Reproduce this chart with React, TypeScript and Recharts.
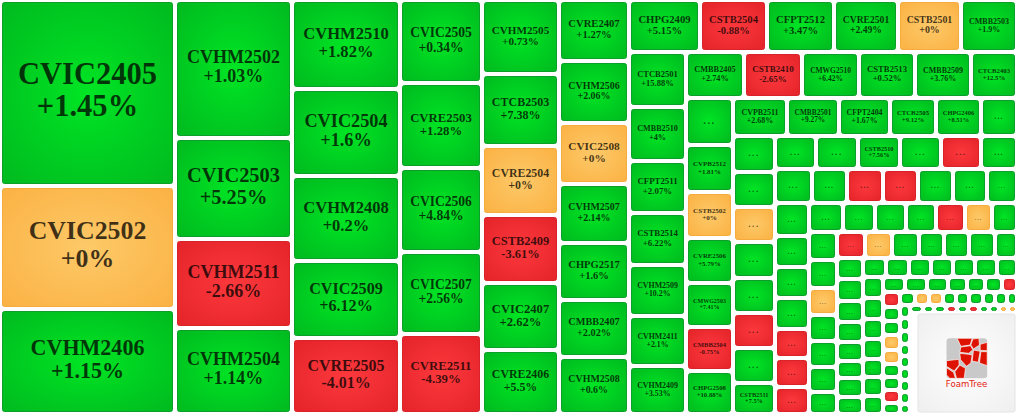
import { Treemap } from "recharts";

// tile weights, one line per strip of the layout
const sizes = [
  32643, 21587, 18428,
  16077, 11767, 10369, 10019,
  9558, 9342, 9180, 8316, 8316,
  6806, 6970, 6888, 6683, 6601,
  5660, 5506, 5313, 5236, 5159, 5005,
  4270, 4340, 4270, 4130, 3990, 3990, 3990,
  3692, 3458, 3458, 3328, 3250, 2990,
  3135, 3078, 2936, 2964, 2907, 2822, 2793,
  2668, 2645, 2599, 2553, 2553, 2208,
  2209, 2209, 2162, 2092, 2068, 2068, 2045,
  2033, 1957, 1938, 1729, 1691, 1444,
  1491, 1470, 1470, 1491, 1449, 1470, 1449, 1386,
  1353, 1370, 1370, 1337, 1304, 1254,
  1258, 1190, 1224, 1173, 1173, 1139, 1071,
  1105, 1054, 1037, 1054, 986, 969, 969,
  972, 914, 899, 870, 841, 783, 754,
  770, 770, 742, 714, 728, 686, 686,
  715, 689, 702, 650, 650, 663, 611,
  546, 559, 533, 520, 494, 442, 494, 468,
  428, 428, 418, 418, 418, 418, 399,
  420, 420, 400, 400, 360, 380, 360,
  330, 330, 315, 285, 270, 248, 233,
  255, 238, 238, 255, 238, 213, 221, 213, 204,
  188, 181, 169, 163, 163, 169, 144, 156, 131,
  130, 128, 126, 124, 122, 120, 118, 116, 111,
  115, 98, 102, 98, 98, 94, 85, 85, 77, 60,
];

// how many tiles sit in each of those strips
const stripCounts = [3, 4, 5, 5, 6, 7, 6, 7, 6, 7, 6, 8, 6, 7, 7, 7, 7, 7, 8, 7, 7, 7, 9, 9, 9, 10];

// the corner tile that holds the FoamTree mark
const logoSize = 10807;

// direction of each tile: 1 up, 0 flat, -1 down
const tones = [
  1, 0, 1,
  1, 1, -1, 1,
  1, 1, 1, 1, -1,
  1, 1, 1, 1, -1,
  1, 1, 0, -1, 1, 1,
  1, 1, 0, 1, 1, 1, 1,
  1, -1, 1, 1, 0, 1,
  1, 1, 1, 1, 1, 1, 1,
  1, -1, 1, 1, 1, 1,
  1, 1, 0, 1, 1, -1, 1,
  1, 1, 1, 1, 1, 1,
  1, 1, 0, 1, 1, -1, 1, 1,
  1, 1, 1, 1, -1, 1,
  1, 1, -1, -1, 1, 1, 1,
  1, 1, 1, 1, -1, -1, -1,
  1, 1, 1, 1, -1, 0, 1,
  1, 1, 0, 1, 1, 1, 1,
  -1, 0, 1, 1, 1, 1, 1,
  1, 1, 1, 1, 1, 1, 1, 1,
  1, 1, 1, 1, 1, 1, 1,
  1, 1, 1, 1, 1, 1, 1,
  1, 1, 1, 1, 1, 1, -1,
  -1, 1, 1, 0, 0, 1, 1, -1, 1,
  1, 0, 0, 1, 1, 1, 1, 1, 1,
  1, 1, 1, 1, 1, 1, 1, 1, 1,
  1, 1, 1, -1, 1, -1, 1, 1, 0, 0,
];

// "" means the tile shows no name, only dots
const names = [
  "CVIC2405", "CVIC2502", "CVHM2406",
  "CVHM2502", "CVIC2503", "CVHM2511", "CVHM2504",
  "CVHM2510", "CVIC2504", "CVHM2408", "CVIC2509", "CVRE2505",
  "CVIC2505", "CVRE2503", "CVIC2506", "CVIC2507", "CVRE2511",
  "CVHM2505", "CTCB2503", "CVRE2504", "CSTB2409", "CVIC2407", "CVRE2406",
  "CVRE2407", "CVHM2506", "CVIC2508", "CVHM2507", "CHPG2517", "CMBB2407", "CVHM2508",
  "CHPG2409", "CSTB2504", "CFPT2512", "CVRE2501", "CSTB2501", "CMBB2503",
  "CTCB2501", "CMBB2510", "CFPT2511", "CSTB2514", "CVHM2509", "CVHM2411", "CVHM2409",
  "CMBB2405", "CSTB2410", "CMWG2510", "CSTB2513", "CMBB2509", "CTCB2403",
  "", "CVPB2512", "CSTB2502", "CVRE2506", "CMWG2503", "CMBB2504", "CHPG2508",
  "CVPB2511", "CMBB2501", "CFPT2404", "CTCB2505", "CHPG2406", "",
  "", "", "", "", "", "", "", "CSTB2511",
  "", "", "CSTB2510", "", "", "",
];

const changes = [
  "+1.45%", "+0%", "+1.15%",
  "+1.03%", "+5.25%", "-2.66%", "+1.14%",
  "+1.82%", "+1.6%", "+0.2%", "+6.12%", "-4.01%",
  "+0.34%", "+1.28%", "+4.84%", "+2.56%", "-4.39%",
  "+0.73%", "+7.38%", "+0%", "-3.61%", "+2.62%", "+5.5%",
  "+1.27%", "+2.06%", "+0%", "+2.14%", "+1.6%", "+2.02%", "+0.6%",
  "+5.15%", "-0.88%", "+3.47%", "+2.49%", "+0%", "+1.9%",
  "+15.88%", "+4%", "+2.07%", "+6.22%", "+10.2%", "+2.1%", "+3.53%",
  "+2.74%", "-2.65%", "+6.42%", "+0.52%", "+3.76%", "+12.5%",
  "", "+1.81%", "+0%", "+5.79%", "+7.41%", "-0.75%", "+10.88%",
  "+2.68%", "+9.27%", "+1.67%", "+9.12%", "+8.51%", "",
  "", "", "", "", "", "", "", "+7.5%",
  "", "", "+7.56%", "", "", "",
];

const tiles = sizes.map((size, i) => ({
  size,
  tone: tones[i],
  name: names[i] ?? "",
  change: changes[i] ?? "",
}));

// each strip is split off the remaining area, so the strips nest inside one another
let cursor = tiles.length;
let nested: any[] = [{ size: logoSize, tone: 2, name: "", change: "" }];
for (let s = stripCounts.length - 1; s >= 0; s--) {
  cursor -= stripCounts[s];
  const strip = { name: `strip${s}`, children: tiles.slice(cursor, cursor + stripCounts[s]) };
  nested = [strip, { name: `rest${s}`, children: nested }];
}

const toneFill: Record<string, string> = { "1": "url(#up)", "0": "url(#flat)", "-1": "url(#down)" };
const toneStroke: Record<string, string> = { "1": "#0c9f2b", "0": "#f6ab3e", "-1": "#d9222a" };

// glyph widths of bold Liberation Serif, in em
const glyphs: Record<string, number> = {
  C: 0.722, V: 0.722, I: 0.389, H: 0.778, M: 0.944, R: 0.722, E: 0.667,
  S: 0.556, T: 0.667, B: 0.667, F: 0.611, P: 0.611, G: 0.778, W: 1,
};
const labelEm = (label: string) => [...label].reduce((sum, ch) => sum + (glyphs[ch] ?? 0.5), 0);

const logoShapes = [
  "187,148 232,148 226,168 198,172",
  "234,150 252,148 254,168 236,180 228,168",
  "198,174 227,170 234,182 222,193 195,190",
  "256,166 277,160 277,185 256,184",
  "236,183 256,187 250,220 232,216",
  "195,193 222,196 232,198 228,222 215,232 197,212",
  "258,188 277,188 277,230 254,222",
  "155,215 192,211 193,228 178,246 155,232",
  "195,228 212,238 208,268 185,268 180,248",
  "155,236 176,250 182,268 165,268 155,258",
];

function LogoTile({ x, y, width, height }: any) {
  const left = x + 8;
  const cx = left + (width - 10) / 2;
  return (
    <g>
      <rect x={left} y={y + 1} width={width - 10} height={height - 3} rx={2} fill="url(#logoBack)" stroke="#e4e4e4" />
      <g transform={`translate(${cx - 20 - 155 / 3} ${y + 25 - 147 / 3}) scale(${1 / 3})`}>
        <rect x={155} y={148} width={122} height={120} rx={10} fill="#c9c9c9" />
        {logoShapes.map((points) => (
          <polygon key={points} points={points} fill="#dd1200" stroke="#fff" strokeWidth={2} />
        ))}
      </g>
      <text x={cx} y={y + 74} textAnchor="middle" fontFamily="'DejaVu Sans', sans-serif" fontSize={8.6} fill="#e0200f">
        FoamTree
      </text>
    </g>
  );
}

function Tile(props: any) {
  const { x, y, width, height, tone, name, change } = props;
  if (tone === undefined) return null;
  if (tone === 2) return <LogoTile x={x} y={y} width={width} height={height} />;

  const key = String(tone);
  const fit = 0.63 + 0.165 * Math.min(1, width / 110);
  const cx = x + width / 2;
  const cy = y + height / 2;
  const fontSize = name ? Math.min((fit * width) / labelEm(name), height * 0.21) : 0;

  return (
    <g>
      <rect
        x={x + 2.5}
        y={y + 2.5}
        width={Math.max(width - 5, 1)}
        height={Math.max(height - 5, 1)}
        rx={2}
        fill={toneFill[key]}
        stroke={toneStroke[key]}
        strokeWidth={1}
      />
      {name ? (
        <text textAnchor="middle" fontFamily="'Liberation Serif', serif" fontWeight={700} fontSize={fontSize} fill="#000" fillOpacity={0.75}>
          <tspan x={cx} y={cy - 0.31 * fontSize}>{name}</tspan>
          <tspan x={cx} y={cy + 0.74 * fontSize}>{change}</tspan>
        </text>
      ) : width >= 18 && height >= 14 ? (
        <text x={cx} y={cy + 2} textAnchor="middle" fontFamily="'Liberation Serif', serif" fontWeight={700} fontSize={width * 0.22} letterSpacing={width * 0.035} fill="#000" fillOpacity={0.6}>
          ...
        </text>
      ) : null}
    </g>
  );
}

export default function App() {
  return (
    <div style={{ position: "absolute", left: 0, top: 0, width: 1017, height: 414, background: "#fff" }}>
      <svg width={0} height={0} style={{ position: "absolute" }}>
        <defs>
          <radialGradient id="up" r="0.7">
            <stop offset="0%" stopColor="#00e524" />
            <stop offset="100%" stopColor="#00ba1f" />
          </radialGradient>
          <radialGradient id="flat" r="0.7">
            <stop offset="0%" stopColor="#fdc968" />
            <stop offset="100%" stopColor="#fbb244" />
          </radialGradient>
          <radialGradient id="down" r="0.7">
            <stop offset="0%" stopColor="#fc383c" />
            <stop offset="100%" stopColor="#e4242a" />
          </radialGradient>
          <radialGradient id="logoBack" r="0.7">
            <stop offset="0%" stopColor="#ffffff" />
            <stop offset="100%" stopColor="#efefef" />
          </radialGradient>
        </defs>
      </svg>
      <Treemap
        width={1017}
        height={414}
        data={nested}
        dataKey="size"
        type="flat"
        aspectRatio={1}
        isAnimationActive={false}
        content={<Tile />}
      />
    </div>
  );
}
